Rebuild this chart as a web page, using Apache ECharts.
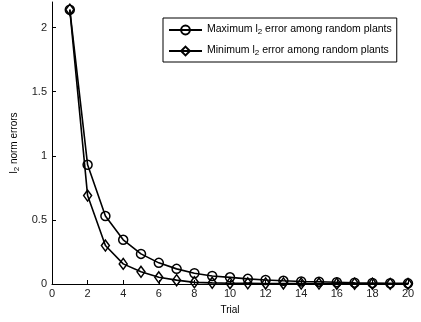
<!DOCTYPE html>
<html>
<head>
<meta charset="utf-8">
<script src="https://cdn.jsdelivr.net/npm/echarts@6/dist/echarts.min.js"></script>
<style>
  html, body { margin: 0; padding: 0; background: #fff; }
  #chart { width: 421px; height: 322px; }
</style>
</head>
<body>
<div id="chart"></div>
<script>
// Trial numbers on the x axis
const trials = [1, 2, 3, 4, 5, 6, 7, 8, 9, 10, 11, 12, 13, 14, 15, 16, 17, 18, 19, 20];
// Largest l2 error over the random plants, per trial
const maxError = [2.14, 0.93, 0.53, 0.345, 0.235, 0.165, 0.118, 0.084, 0.063, 0.052, 0.04, 0.031, 0.025, 0.02, 0.018, 0.014, 0.01, 0.008, 0.006, 0.005];
// Smallest l2 error over the random plants, per trial
const minError = [2.14, 0.69, 0.30, 0.157, 0.095, 0.052, 0.03, 0.013, 0.009, 0.006, 0.005, 0.004, 0.004, 0.003, 0.003, 0.002, 0.002, 0.002, 0.001, 0.001];
// Tick positions
const xTicks = [0, 2, 4, 6, 8, 10, 12, 14, 16, 18, 20];
const yTicks = [0, 0.5, 1, 1.5, 2];

const FONT = 'Liberation Sans, Arial, sans-serif';
const legendText = {
  'Maximum l2 error among random plants': '{n|Maximum l}{s|2}{n| error among random plants}',
  'Minimum l2 error among random plants': '{n|Minimum l}{s|2}{n| error among random plants}'
};

// rich styles: normal text plus a lowered subscript
function richText(size) {
  return {
    n: { fontFamily: FONT, fontSize: size, color: '#000', lineHeight: 12, verticalAlign: 'top' },
    s: { fontFamily: FONT, fontSize: 8, color: '#000', lineHeight: 8, padding: [6, 0, 0, 0], verticalAlign: 'bottom' }
  };
}

const chart = echarts.init(document.getElementById('chart'), null, { renderer: 'canvas' });

const markStyle = { color: 'rgba(0,0,0,0)', borderColor: '#000', borderWidth: 1.5 };

chart.setOption({
  animation: false,
  backgroundColor: '#fff',
  grid: { left: 52, right: 13, top: 2, bottom: 38, containLabel: false, outerBoundsMode: 'none' },
  legend: {
    orient: 'vertical',
    left: 163,
    top: 18,
    borderColor: '#000',
    borderWidth: 1,
    padding: [4, 5, 5, 5],
    itemGap: 7,
    itemWidth: 33,
    itemHeight: 11,
    backgroundColor: '#fff',
    formatter: name => legendText[name],
    textStyle: { rich: richText(10.5) },
    data: ['Maximum l2 error among random plants', 'Minimum l2 error among random plants']
  },
  xAxis: {
    type: 'value',
    min: 0,
    max: 20,
    interval: 2,
    name: 'Trial',
    nameLocation: 'middle',
    nameGap: 21,
    nameTextStyle: { fontFamily: FONT, fontSize: 10, color: '#000' },
    axisLine: { lineStyle: { color: '#000', width: 1 } },
    axisTick: { inside: true, length: 4, lineStyle: { color: '#000' } },
    axisLabel: { fontFamily: FONT, fontSize: 11, color: '#222', margin: 4, customValues: xTicks },
    splitLine: { show: false }
  },
  yAxis: {
    type: 'value',
    min: 0,
    max: 2.2,
    name: '{n|l}{s|2}{n| norm errors}',
    nameLocation: 'middle',
    nameGap: 27,
    nameRotate: 90,
    nameTextStyle: { rich: richText(10) },
    axisLine: { show: true, lineStyle: { color: '#000', width: 1 } },
    axisTick: { show: true, inside: true, length: 4, lineStyle: { color: '#000' }, customValues: yTicks },
    axisLabel: { fontFamily: FONT, fontSize: 11, color: '#222', margin: 5, customValues: yTicks },
    splitLine: { show: false }
  },
  series: [
    {
      name: 'Maximum l2 error among random plants',
      type: 'line',
      data: trials.map((t, i) => [t, maxError[i]]),
      symbol: 'circle',
      symbolSize: 9,
      lineStyle: { color: '#000', width: 1.6 },
      itemStyle: markStyle
    },
    {
      name: 'Minimum l2 error among random plants',
      type: 'line',
      data: trials.map((t, i) => [t, minError[i]]),
      symbol: 'diamond',
      symbolSize: [8, 11],
      lineStyle: { color: '#000', width: 1.6 },
      itemStyle: markStyle
    }
  ]
});
</script>
</body>
</html>
